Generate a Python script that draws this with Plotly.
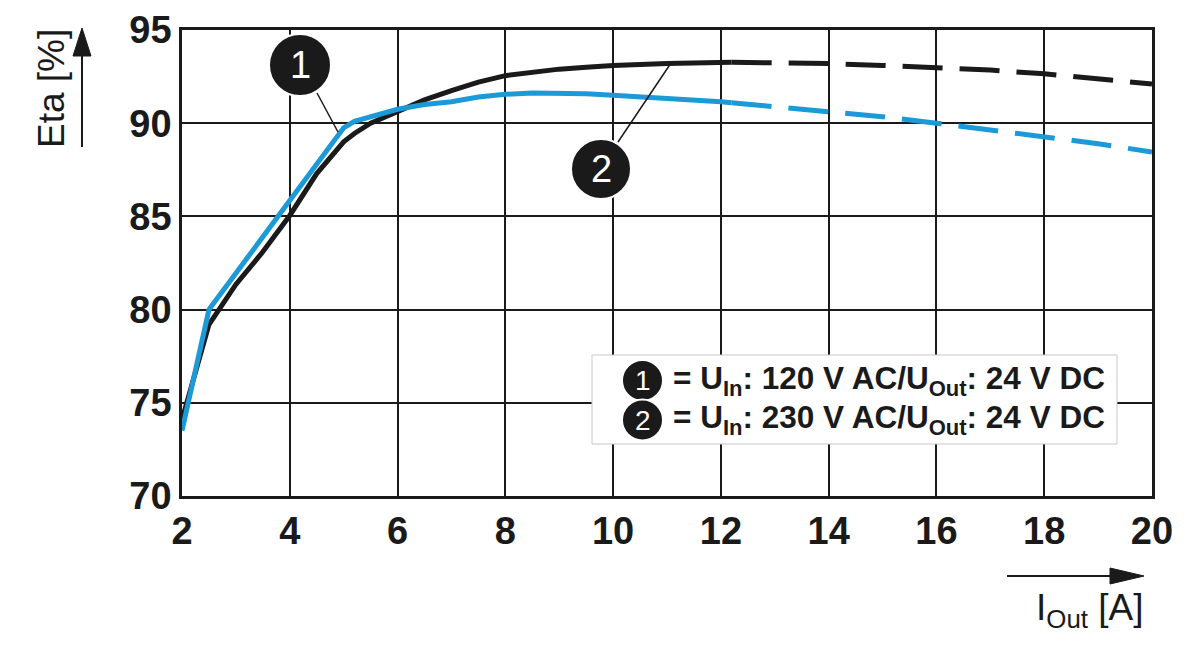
import plotly.graph_objects as go

# --- data ------------------------------------------------------------------
i_out = [2, 2.5, 3, 3.5, 4, 4.5, 5, 5.2, 5.5, 6, 6.5, 7, 7.5, 8, 8.5, 9, 9.5,
         10, 11, 12, 12.2, 13, 14, 15, 16, 17, 18, 19, 20]
eta_120 = [74.1, 79.2, 81.35, 83.1, 85.05, 87.3, 89.0, 89.45, 90.0, 90.6, 91.25,
           91.75, 92.2, 92.55, 92.75, 92.9, 93.0, 93.1, 93.2, 93.27, 93.27,
           93.25, 93.2, 93.1, 93.0, 92.85, 92.65, 92.4, 92.1]
eta_230 = [73.5, 80.0, 81.95, 83.9, 85.85, 87.8, 89.75, 90.1, 90.35, 90.75, 91.0,
           91.15, 91.4, 91.55, 91.62, 91.62, 91.58, 91.5, 91.35, 91.15, 91.1,
           90.9, 90.65, 90.35, 90.0, 89.65, 89.3, 88.9, 88.45]
dash_from = 12.2          # curves are measured (solid) up to here, dashed beyond

x_ticks = [2, 4, 6, 8, 10, 12, 14, 16, 18, 20]
y_ticks = [70, 75, 80, 85, 90, 95]
legend_rows = ["= U<sub>In</sub>: 120 V AC/U<sub>Out</sub>: 24 V DC",
               "= U<sub>In</sub>: 230 V AC/U<sub>Out</sub>: 24 V DC"]

BLACK = "#1a1a1a"
BLUE = "#1b9ad7"
FONT = "Liberation Sans"

# page body has an 8px margin, so the figure is sized / placed to leave the
# plot area at page pixels x 182..1152, y 30..496
OFF = 8
W, H = 1200 - 2 * OFF, 656 - 2 * OFF
L, T = 182 - OFF, 30 - OFF
PW, PH = 970, 466
R, B = W - L - PW, H - T - PH
XR, YR = (2, 20), (70, 95)


def dx(px):
    return XR[0] + (px - OFF - L) / PW * (XR[1] - XR[0])


def dy(py):
    return YR[1] - (py - OFF - T) / PH * (YR[1] - YR[0])


def px_x(px):
    return (px - OFF - L) / PW


def px_y(py):
    return (T + PH - (py - OFF)) / PH


fig = go.Figure()

for eta, color in [(eta_120, BLACK), (eta_230, BLUE)]:
    solid = [(x, y) for x, y in zip(i_out, eta) if x <= dash_from]
    dashed = [(x, y) for x, y in zip(i_out, eta) if x >= dash_from]
    fig.add_trace(go.Scatter(x=[p[0] for p in solid], y=[p[1] for p in solid],
                             mode="lines", line=dict(color=color, width=5),
                             showlegend=False, hoverinfo="skip"))
    fig.add_trace(go.Scatter(x=[p[0] for p in dashed], y=[p[1] for p in dashed],
                             mode="lines",
                             line=dict(color=color, width=5, dash="40px,17px"),
                             showlegend=False, hoverinfo="skip"))

axis_common = dict(showgrid=True, gridcolor=BLACK, gridwidth=2,
                   showline=True, linecolor=BLACK, linewidth=2.5, mirror=True,
                   zeroline=False, ticks="", automargin=False,
                   tickfont=dict(family=FONT, size=38, color=BLACK, weight="bold"))

fig.update_xaxes(range=list(XR), tickvals=x_ticks, ticklabelstandoff=0, **axis_common)
fig.update_yaxes(range=list(YR), tickvals=y_ticks, ticklabelstandoff=0, **axis_common)

shapes = []
annotations = []

# legend box
shapes.append(dict(type="rect", xref="x", yref="y", layer="above",
                   x0=dx(592), x1=dx(1117), y0=dy(444), y1=dy(355),
                   fillcolor="white", line=dict(color="#c8c8c8", width=1)))

# leader lines of the callouts
for (x0, y0), (x1, y1) in [((317, 93), (338, 132)), ((618, 142), (671, 63))]:
    shapes.append(dict(type="line", xref="x", yref="y", layer="above",
                       x0=dx(x0), y0=dy(y0), x1=dx(x1), y1=dy(y1),
                       line=dict(color=BLACK, width=1.5)))

# numbered circles: callouts and legend markers
circles = [(300, 65, 31, "1", 38), (601, 169, 30, "2", 38),
           (642.5, 380.5, 20.5, "1", 28), (642.5, 420, 20.5, "2", 28)]
for cx, cy, r, label, fs in circles:
    shapes.append(dict(type="circle", xref="x", yref="y", layer="above",
                       xsizemode="pixel", ysizemode="pixel",
                       xanchor=dx(cx), yanchor=dy(cy), x0=-r, x1=r, y0=-r, y1=r,
                       fillcolor=BLACK, line=dict(color="white", width=2)))
    annotations.append(dict(x=dx(cx), y=dy(cy), xref="x", yref="y", text=label,
                            showarrow=False, xanchor="center", yanchor="middle",
                            font=dict(family=FONT, size=fs, color="white")))

for row, cy in zip(legend_rows, [380.5, 419.5]):
    annotations.append(dict(x=dx(1107), y=dy(cy), xref="x", yref="y", text=row,
                            showarrow=False, xanchor="right", yanchor="middle",
                            font=dict(family=FONT, size=31.5, color=BLACK,
                                      weight="bold")))

# axis titles with arrows
annotations.append(dict(x=px_x(51), y=px_y(89), xref="paper", yref="paper",
                        text="Eta [%]", textangle=-90, showarrow=False,
                        xanchor="center", yanchor="middle",
                        font=dict(family=FONT, size=37, color=BLACK)))
annotations.append(dict(x=px_x(1146), y=px_y(610), xref="paper", yref="paper",
                        text="I<sub>Out</sub> [A]", showarrow=False,
                        xanchor="right", yanchor="middle",
                        font=dict(family=FONT, size=37, color=BLACK)))

shapes.append(dict(type="line", xref="paper", yref="paper",
                   x0=px_x(82), x1=px_x(82), y0=px_y(147), y1=px_y(50),
                   line=dict(color=BLACK, width=2)))
shapes.append(dict(type="path", xref="paper", yref="paper", fillcolor=BLACK,
                   line=dict(color=BLACK, width=1),
                   path=f"M {px_x(82)} {px_y(28)} L {px_x(73)} {px_y(56)} "
                        f"L {px_x(91)} {px_y(56)} Z"))
shapes.append(dict(type="line", xref="paper", yref="paper",
                   x0=px_x(1007), x1=px_x(1115), y0=px_y(576), y1=px_y(576),
                   line=dict(color=BLACK, width=2)))
shapes.append(dict(type="path", xref="paper", yref="paper", fillcolor=BLACK,
                   line=dict(color=BLACK, width=1),
                   path=f"M {px_x(1144)} {px_y(576)} L {px_x(1110)} {px_y(568)} "
                        f"L {px_x(1110)} {px_y(584)} Z"))

fig.update_layout(width=W, height=H, margin=dict(l=L, r=R, t=T, b=B, pad=0),
                  plot_bgcolor="white", paper_bgcolor="white",
                  shapes=shapes, annotations=annotations)

fig.write_html("out.html")
